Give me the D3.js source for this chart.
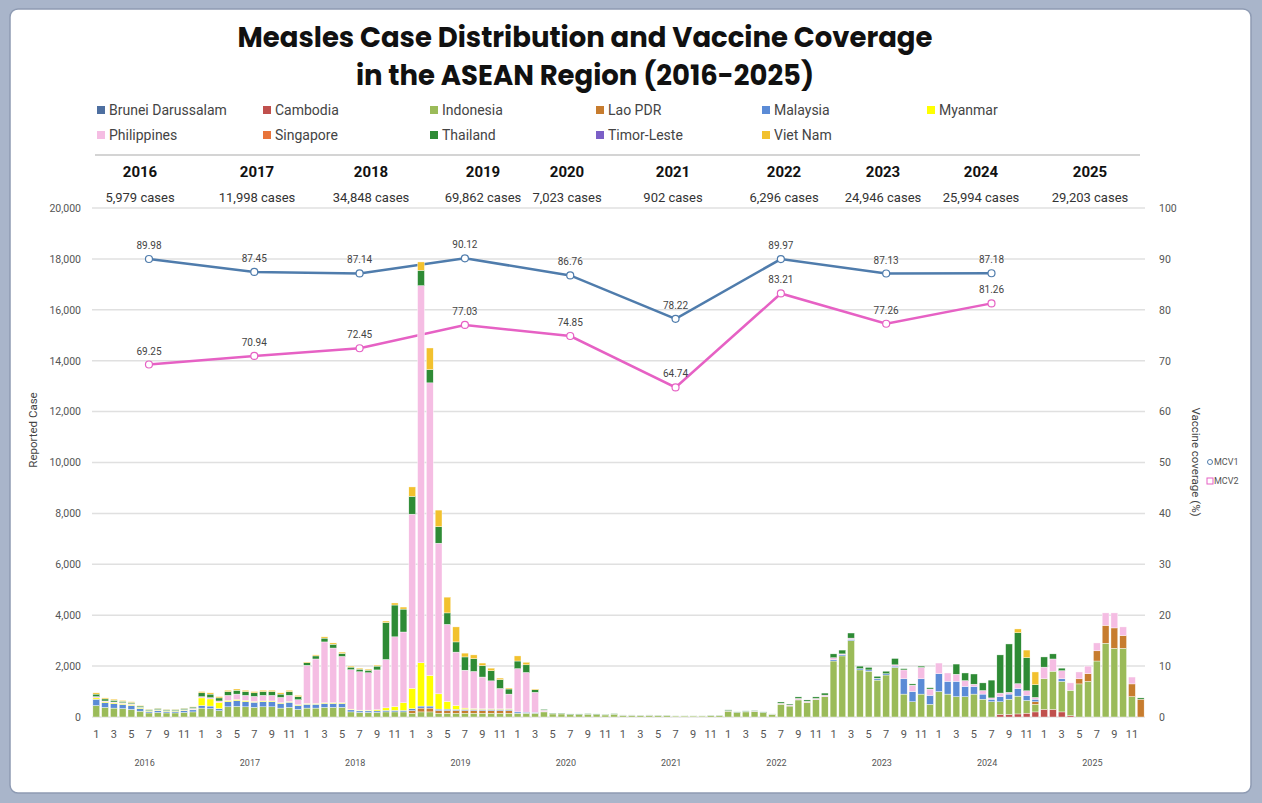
<!DOCTYPE html>
<html lang="en">
<head>
<meta charset="UTF-8">
<title>Measles ASEAN</title>
<script src="https://cdn.jsdelivr.net/npm/d3@7/dist/d3.min.js"></script>
<style>
  body { margin: 0; background: #a9b5ca; }
  svg { display: block; }
  text { font-family: Roboto, "Liberation Sans", sans-serif; }
</style>
</head>
<body>
<svg id="chart" width="1262" height="803"></svg>
<script>
// ---- data ----
const countries = ["Brunei Darussalam", "Cambodia", "Indonesia", "Lao PDR", "Malaysia", "Myanmar",
  "Philippines", "Singapore", "Thailand", "Timor-Leste", "Viet Nam"];
const colors = ["#4e6fa0", "#c0504d", "#9bbb59", "#c77c2e", "#5b8bd6", "#ffff00",
  "#f5bde3", "#e8743b", "#2e8b35", "#7b5fc7", "#f2c12e"];

const years = [2016, 2017, 2018, 2019, 2020, 2021, 2022, 2023, 2024, 2025];
const yearCases = ["5,979 cases", "11,998 cases", "34,848 cases", "69,862 cases", "7,023 cases",
  "902 cases", "6,296 cases", "24,946 cases", "25,994 cases", "29,203 cases"];
const monthTicks = [1, 3, 5, 7, 9, 11];

// monthly cases, Jan 2016 .. Dec 2025 (one row per year)
const brunei = [
  0,0,0,0,0,0,0,0,0,0,0,0,
  0,0,0,0,0,0,0,0,0,0,0,0,
  0,0,0,0,0,0,0,0,0,0,0,0,
  0,0,0,0,0,0,0,0,0,0,0,0,
  0,0,0,0,0,0,0,0,0,0,0,0,
  0,0,0,0,0,0,0,0,0,0,0,0,
  0,0,0,0,0,0,0,0,0,0,0,0,
  0,0,0,0,0,0,0,0,0,0,0,0,
  0,0,0,0,0,0,0,0,0,0,0,0,
  0,0,0,0,0,0,0,0,0,0,0,0];
const cambodia = [
  0,0,0,0,0,0,0,0,0,0,0,0,
  0,0,0,0,0,0,0,0,0,0,0,0,
  0,0,0,0,0,0,0,0,0,0,0,0,
  0,0,0,0,0,0,0,0,0,0,0,0,
  0,0,0,0,0,0,0,0,0,0,0,0,
  0,0,0,0,0,0,0,0,0,0,0,0,
  0,0,0,0,0,0,0,0,0,0,0,0,
  0,0,0,0,0,0,0,0,0,0,0,0,
  0,0,0,0,0,0,0,100,100,120,150,200,
  300,300,200,50,0,0,0,0,0,0,0,0];
const indonesia = [
  450,380,350,330,300,230,160,180,160,160,180,200,
  350,330,250,400,420,400,380,400,400,350,380,300,
  350,350,380,380,380,200,180,180,180,200,200,200,
  150,200,200,150,150,150,150,150,150,150,150,150,
  150,150,150,200,120,120,100,100,110,100,80,110,
  60,60,50,60,50,50,40,40,40,40,50,50,
  230,170,200,210,170,100,500,430,670,570,680,800,
  2200,2400,3000,1850,1800,1450,1650,1950,900,600,900,500,
  1000,900,800,800,900,700,600,500,600,700,500,300,
  1200,1500,1200,1000,1300,1400,2200,2900,2700,2700,800,0];
const laoPDR = [
  0,0,0,0,0,0,0,0,0,0,0,0,
  0,0,0,0,0,0,0,0,0,0,0,0,
  0,0,0,0,0,0,0,0,0,0,0,0,
  100,150,150,100,100,100,100,100,100,100,100,100,
  0,0,0,0,0,0,0,0,0,0,0,0,
  0,0,0,0,0,0,0,0,0,0,0,0,
  0,0,0,0,0,0,0,0,0,0,0,0,
  0,0,0,0,0,0,0,0,0,0,0,0,
  0,0,0,0,0,0,0,0,0,0,0,100,
  0,0,0,0,200,300,400,700,800,500,500,700];
const malaysia = [
  250,180,170,160,150,100,60,70,60,60,70,80,
  100,100,80,200,220,200,200,200,200,180,200,150,
  150,150,150,150,150,80,60,60,60,60,60,60,
  80,80,80,60,60,50,50,50,50,50,50,50,
  50,40,30,10,0,0,0,0,0,0,0,0,
  0,0,0,0,0,0,0,0,0,0,0,0,
  0,0,0,0,0,0,0,0,0,0,0,0,
  50,50,50,50,50,50,50,50,600,400,600,350,
  700,500,600,400,300,200,100,200,200,300,200,100,
  0,0,100,0,0,0,0,0,0,0,0,0];
const myanmar = [
  50,40,40,40,40,30,20,20,20,20,20,20,
  300,280,250,50,50,50,30,30,30,30,30,30,
  30,30,30,30,30,30,30,30,50,100,150,300,
  800,1700,1200,600,300,150,50,30,20,20,20,20,
  0,0,0,0,0,0,0,0,0,0,0,0,
  0,0,0,0,0,0,0,0,0,0,0,0,
  0,0,0,0,0,0,0,0,0,0,0,0,
  0,0,0,0,0,0,0,0,0,0,0,0,
  0,0,0,0,0,0,0,0,0,0,0,0,
  0,0,0,0,0,0,0,0,0,0,0,0];
const philippines = [
  50,30,30,30,30,20,10,20,10,10,20,40,
  50,50,50,200,210,200,200,220,220,210,240,200,
  1500,1750,2390,2150,1820,1550,1510,1470,1560,1900,2740,2780,
  6840,14820,11500,5920,3030,2100,1490,1460,1250,1100,800,580,
  1700,1560,790,60,10,10,0,0,0,0,0,0,
  10,10,10,10,5,5,5,5,5,5,5,5,
  20,10,20,20,10,10,40,40,60,50,50,60,
  80,30,50,0,0,20,0,50,350,250,450,250,
  420,330,280,230,90,140,50,140,70,190,180,70,
  460,480,320,290,270,300,310,490,590,340,270,0];
const singapore = [
  0,0,0,0,0,0,0,0,0,0,0,0,
  0,0,0,0,0,0,0,0,0,0,0,0,
  0,0,0,0,0,0,0,0,0,0,0,0,
  0,0,0,0,0,0,0,0,0,0,0,0,
  0,0,0,0,0,0,0,0,0,0,0,0,
  0,0,0,0,0,0,0,0,0,0,0,0,
  0,0,0,0,0,0,0,0,0,0,0,0,
  0,0,0,0,0,0,0,0,0,0,0,0,
  0,0,0,0,0,0,0,0,0,0,0,0,
  0,0,0,0,0,0,0,0,0,0,0,0];
const thailand = [
  100,80,70,60,50,50,40,50,40,40,50,50,
  150,140,120,150,150,150,140,150,150,130,150,120,
  100,120,150,150,120,100,100,100,150,1450,1250,900,
  700,600,520,650,450,400,520,500,450,400,350,200,
  300,300,100,30,20,20,20,20,20,20,20,20,
  10,10,10,10,10,10,10,10,10,10,10,10,
  30,20,20,20,20,10,50,40,60,50,60,80,
  150,150,200,100,100,80,100,250,50,50,50,50,
  0,0,400,300,400,300,700,1500,1900,2000,1300,500,
  400,200,100,0,0,0,0,0,0,0,0,50];
const timorLeste = [
  0,0,0,0,0,0,0,0,0,0,0,0,
  0,0,0,0,0,0,0,0,0,0,0,0,
  0,0,0,0,0,0,0,0,0,0,0,0,
  0,0,0,0,0,0,0,0,0,0,0,0,
  0,0,0,0,0,0,0,0,0,0,0,0,
  0,0,0,0,0,0,0,0,0,0,0,0,
  0,0,0,0,0,0,0,0,0,0,0,0,
  0,0,0,0,0,0,0,0,0,0,0,0,
  0,0,0,0,0,0,0,0,0,0,0,0,
  0,0,0,0,0,0,0,0,0,0,0,0];
const vietNam = [
  50,40,40,30,30,20,10,10,10,10,10,10,
  50,50,50,50,50,50,50,50,50,50,50,50,
  30,40,50,50,50,40,40,40,40,60,80,80,
  370,330,850,650,620,590,150,150,100,100,60,40,
  200,100,30,0,0,0,0,0,0,0,0,0,
  0,0,0,0,0,0,0,0,0,0,0,0,
  0,0,0,0,0,0,0,0,0,0,0,0,
  0,0,0,0,0,0,0,0,0,0,0,0,
  0,0,0,0,0,0,0,0,0,150,300,500,
  0,0,0,0,0,0,0,0,0,0,0,0];

// vaccine coverage (%), plotted at July of each year
const coverageYears = [2016, 2017, 2018, 2019, 2020, 2021, 2022, 2023, 2024];
const mcv1 = [89.98, 87.45, 87.14, 90.12, 86.76, 78.22, 89.97, 87.13, 87.18];
const mcv2 = [69.25, 70.94, 72.45, 77.03, 74.85, 64.74, 83.21, 77.26, 81.26];

// ---- layout ----
const W = 1262, H = 803;
const plot = { left: 92, right: 1145, top: 208, bottom: 717 };
const headerX = [140, 257, 371, 483, 567, 673, 784, 883, 981, 1090];
const legendCols = [97, 263, 430, 596, 762, 927];

const svg = d3.select("#chart");

// frame
svg.append("rect").attr("x", 10).attr("y", 9).attr("width", W - 21).attr("height", H - 19)
  .attr("rx", 8).attr("fill", "#fff").attr("stroke", "#8e9bb3").attr("stroke-width", 1.5);

// title
const titleFont = "Poppins, Inter, 'Noto Sans', sans-serif";
svg.append("text").attr("x", 585).attr("y", 47).attr("text-anchor", "middle")
  .style("font-family", titleFont).style("font-weight", 700)
  .style("font-size", "27.5px").attr("fill", "#111").text("Measles Case Distribution and Vaccine Coverage");
svg.append("text").attr("x", 585).attr("y", 85).attr("text-anchor", "middle")
  .style("font-family", titleFont).style("font-weight", 700)
  .style("font-size", "27.5px").attr("fill", "#111").text("in the ASEAN Region (2016-2025)");

// country legend
const leg = svg.append("g");
countries.forEach((c, i) => {
  const col = i % 6, row = Math.floor(i / 6);
  const g = leg.append("g").attr("transform", `translate(${legendCols[col]},${110 + row * 25})`);
  g.append("rect").attr("x", 0).attr("y", -4).attr("width", 8).attr("height", 8).attr("fill", colors[i]);
  g.append("text").attr("x", 12).attr("y", 5).style("font-size", "14px").attr("fill", "#444").text(c);
});

svg.append("line").attr("x1", 95).attr("x2", 1140).attr("y1", 155).attr("y2", 155)
  .attr("stroke", "#d4d4d4").attr("stroke-width", 2);

// yearly totals header
years.forEach((y, i) => {
  svg.append("text").attr("x", headerX[i]).attr("y", 177).attr("text-anchor", "middle")
    .style("font-size", "15px").style("font-weight", 700).attr("fill", "#111").text(y);
  svg.append("text").attr("x", headerX[i]).attr("y", 202).attr("text-anchor", "middle")
    .style("font-size", "13px").attr("fill", "#333").text(yearCases[i]);
});

// scales
const months = d3.range(years.length * 12);
const x = d3.scaleBand().domain(months).range([plot.left, plot.right]).paddingInner(0.22).paddingOuter(0.1);
const yL = d3.scaleLinear().domain([0, 20000]).range([plot.bottom, plot.top]);
const yR = d3.scaleLinear().domain([0, 100]).range([plot.bottom, plot.top]);

// gridlines
svg.append("g").selectAll("line").data(yL.ticks(10)).join("line")
  .attr("x1", plot.left).attr("x2", plot.right)
  .attr("y1", d => yL(d)).attr("y2", d => yL(d))
  .attr("stroke", "#e0e0e0").attr("stroke-width", 1.5);

// axes
const axL = svg.append("g").attr("transform", `translate(${plot.left},0)`)
  .call(d3.axisLeft(yL).ticks(10).tickFormat(d3.format(",")).tickSize(0).tickPadding(11));
const axR = svg.append("g").attr("transform", `translate(${plot.right},0)`)
  .call(d3.axisRight(yR).ticks(10).tickSize(0).tickPadding(14));
[axL, axR].forEach(a => {
  a.select(".domain").remove();
  a.selectAll("text").style("font-size", "10.5px").attr("fill", "#555");
});

svg.append("text").attr("transform", "translate(37,430) rotate(-90)").attr("text-anchor", "middle")
  .style("font-size", "11.5px").attr("fill", "#444").text("Reported Case");
svg.append("text").attr("transform", "translate(1192,462) rotate(90)").attr("text-anchor", "middle")
  .style("font-size", "11.5px").attr("fill", "#444").text("Vaccine coverage (%)");

// coverage lines (behind the bars, as in the source)
const px = yr => x((yr - years[0]) * 12 + 6) + x.bandwidth() / 2;
const lineLayer = svg.append("g");

// stacked bars
const series = [brunei, cambodia, indonesia, laoPDR, malaysia, myanmar,
  philippines, singapore, thailand, timorLeste, vietNam];
const rows = months.map(m => {
  const r = { m: m };
  countries.forEach((c, i) => { r[c] = series[i][m]; });
  return r;
});
const stack = d3.stack().keys(countries)(rows);

svg.append("g").selectAll("g").data(stack).join("g")
  .attr("fill", (d, i) => colors[i])
  .selectAll("rect").data(d => d).join("rect")
  .attr("x", d => x(d.data.m))
  .attr("width", x.bandwidth())
  .attr("y", d => yL(d[1]))
  .attr("height", d => yL(d[0]) - yL(d[1]))
  .attr("stroke", "#fff").attr("stroke-width", 0.4);

// month and year labels
const mg = svg.append("g");
years.forEach((yr, yi) => {
  monthTicks.forEach(mo => {
    const m = yi * 12 + mo - 1;
    mg.append("text").attr("x", x(m) + x.bandwidth() / 2).attr("y", 738).attr("text-anchor", "middle")
      .style("font-size", "11px").attr("fill", "#555").text(mo);
  });
  const x0 = x(yi * 12), x1 = x(yi * 12 + 11) + x.bandwidth();
  mg.append("text").attr("x", (x0 + x1) / 2).attr("y", 766).attr("text-anchor", "middle")
    .style("font-size", "9px").attr("fill", "#555").text(yr);
});

function drawLine(vals, color) {
  const pts = coverageYears.map((yr, i) => ({ x: px(yr), y: yR(vals[i]), v: vals[i] }));
  lineLayer.append("path").datum(pts)
    .attr("fill", "none").attr("stroke", color).attr("stroke-width", 2.5)
    .attr("d", d3.line().x(d => d.x).y(d => d.y));
  svg.append("g").selectAll("circle").data(pts).join("circle")
    .attr("cx", d => d.x).attr("cy", d => d.y).attr("r", 3.5)
    .attr("fill", "#fff").attr("stroke", color).attr("stroke-width", 1.2);
  svg.append("g").selectAll("text").data(pts).join("text")
    .attr("x", d => d.x).attr("y", d => d.y - 10).attr("text-anchor", "middle")
    .style("font-size", "10px").attr("fill", "#444").text(d => d.v.toFixed(2));
}
drawLine(mcv1, "#4f7cac");
drawLine(mcv2, "#e661c4");

// coverage legend
const cl = svg.append("g");
cl.append("circle").attr("cx", 1210).attr("cy", 462).attr("r", 2.5).attr("fill", "#fff").attr("stroke", "#4f7cac");
cl.append("text").attr("x", 1214).attr("y", 465).style("font-size", "9px").attr("fill", "#555").text("MCV1");
cl.append("rect").attr("x", 1207).attr("y", 478).attr("width", 6).attr("height", 6).attr("fill", "#fff").attr("stroke", "#e661c4");
cl.append("text").attr("x", 1214).attr("y", 484).style("font-size", "9px").attr("fill", "#555").text("MCV2");
</script>
</body>
</html>
